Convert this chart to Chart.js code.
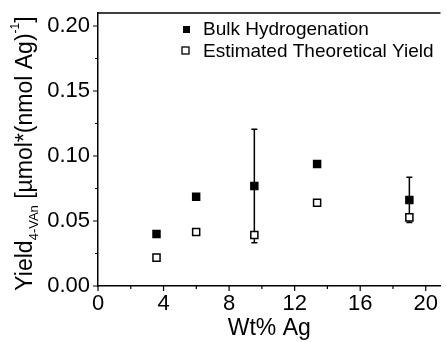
<!DOCTYPE html>
<html>
<head>
<meta charset="utf-8">
<script src="https://cdn.jsdelivr.net/npm/chart.js@4/dist/chart.umd.min.js"></script>
<style>
  html, body { margin: 0; padding: 0; background: #fff; overflow: hidden; }
  canvas { display: block; }
</style>
</head>
<body>
<canvas id="chart" width="447" height="342"></canvas>
<script>
const wtAg = [3.57, 5.99, 9.54, 13.37, 19.0];
const bulkYield = [0.040, 0.0687, 0.0769, 0.0938, 0.0662];
const bulkErr = [0, 0, 0.0436, 0, 0.0174];
const theoYield = [0.0218, 0.0415, 0.0392, 0.0641, 0.0528];
const seriesNames = ['Bulk Hydrogenation', 'Estimated Theoretical Yield'];
const xTitle = 'Wt% Ag';

const FONT = '"Liberation Sans", Arial, sans-serif';

// error bars, ticks, top frame line, legend and the y title with sub/superscripts
const extras = {
    id: 'extras',
    beforeDatasetsDraw(chart) {
        const ctx = chart.ctx;
        const xs = chart.scales.x, ys = chart.scales.y;
        ctx.save();
        ctx.strokeStyle = '#000';
        ctx.lineWidth = 1.5;
        wtAg.forEach((x, i) => {
            if (!bulkErr[i]) return;
            const px = xs.getPixelForValue(x);
            const top = ys.getPixelForValue(bulkYield[i] + bulkErr[i]);
            const bot = ys.getPixelForValue(bulkYield[i] - bulkErr[i]);
            ctx.beginPath();
            ctx.moveTo(px, top); ctx.lineTo(px, bot);
            ctx.moveTo(px - 3, top); ctx.lineTo(px + 3, top);
            ctx.moveTo(px - 3, bot); ctx.lineTo(px + 3, bot);
            ctx.stroke();
        });
        ctx.restore();
    },
    afterDraw(chart) {
        const ctx = chart.ctx;
        const area = chart.chartArea;
        const xs = chart.scales.x, ys = chart.scales.y;
        ctx.save();
        ctx.strokeStyle = '#000';
        ctx.lineWidth = 1.5;
        // top frame
        ctx.beginPath();
        ctx.moveTo(area.left, area.top);
        ctx.lineTo(area.right, area.top);
        ctx.stroke();
        // outward ticks, major longer than minor
        ctx.lineWidth = 1.2;
        ctx.beginPath();
        xs.ticks.forEach(t => {
            const px = xs.getPixelForValue(t.value);
            const len = Math.round(t.value) % 4 === 0 ? 5 : 3;
            ctx.moveTo(px, area.bottom); ctx.lineTo(px, area.bottom + len);
        });
        ys.ticks.forEach(t => {
            const py = ys.getPixelForValue(t.value);
            const len = Math.round(t.value / 0.025) % 2 === 0 ? 5 : 3;
            ctx.moveTo(area.left, py); ctx.lineTo(area.left - len, py);
        });
        ctx.stroke();

        // legend
        ctx.fillStyle = '#000';
        ctx.font = '19px ' + FONT;
        ctx.textBaseline = 'alphabetic';
        ctx.textAlign = 'left';
        ctx.fillRect(183, 26, 7, 7);
        ctx.fillText(seriesNames[0], 203, 35);
        ctx.fillStyle = '#fff';
        ctx.fillRect(182, 47, 7, 7);
        ctx.lineWidth = 1.3;
        ctx.strokeRect(182, 47, 7, 7);
        ctx.fillStyle = '#000';
        ctx.fillText(seriesNames[1], 203, 57);

        // y axis title
        const parts = [
            { t: 'Yield', size: 23, dy: 0 },
            { t: '4-VAn', size: 13, dy: 6 },
            { t: ' [\u00b5mol*(nmol Ag)', size: 23, dy: 0 },
            { t: '-1', size: 12, dy: -13 },
            { t: ']', size: 23, dy: 0 }
        ];
        let total = 0;
        parts.forEach(p => {
            ctx.font = p.size + 'px ' + FONT;
            p.w = ctx.measureText(p.t).width;
            total += p.w;
        });
        ctx.translate(32, (area.top + area.bottom) / 2 + 4);
        ctx.rotate(-Math.PI / 2);
        let x = -total / 2;
        parts.forEach(p => {
            ctx.font = p.size + 'px ' + FONT;
            ctx.fillText(p.t, x, p.dy);
            x += p.w;
        });
        ctx.restore();
    }
};

const ctx = document.getElementById('chart').getContext('2d');
new Chart(ctx, {
    type: 'scatter',
    data: {
        datasets: [
            {
                label: seriesNames[0],
                data: wtAg.map((x, i) => ({ x: x, y: bulkYield[i] })),
                pointStyle: 'rect',
                pointRadius: 6,
                backgroundColor: '#000',
                borderColor: '#000',
                borderWidth: 0
            },
            {
                label: seriesNames[1],
                data: wtAg.map((x, i) => ({ x: x, y: theoYield[i] })),
                pointStyle: 'rect',
                pointRadius: 5,
                backgroundColor: '#fff',
                borderColor: '#000',
                borderWidth: 1.5
            }
        ]
    },
    options: {
        responsive: false,
        animation: false,
        layout: { padding: { top: 13, right: 0, left: 0, bottom: 0 } },
        plugins: {
            legend: { display: false },
            tooltip: { enabled: false }
        },
        scales: {
            x: {
                type: 'linear',
                min: 0,
                max: 20.9,
                grid: { display: false, drawTicks: false },
                border: { display: true, color: '#000', width: 1.5 },
                ticks: {
                    stepSize: 2,
                    includeBounds: false,
                    autoSkip: false,
                    maxRotation: 0,
                    padding: 5,
                    color: '#000',
                    font: { family: FONT, size: 22 },
                    callback: v => (Math.round(v) % 4 === 0 ? String(Math.round(v)) : '')
                },
                title: {
                    display: true,
                    text: xTitle,
                    color: '#000',
                    font: { family: FONT, size: 23 },
                    padding: { top: 0, bottom: 0 }
                },
                afterFit: s => {
                    s.height = 56;
                    s.paddingLeft = 0;
                    s.paddingRight = 0;
                }
            },
            y: {
                min: 0,
                max: 0.21,
                grid: { display: false, drawTicks: false },
                border: { display: true, color: '#000', width: 1.5 },
                ticks: {
                    stepSize: 0.025,
                    includeBounds: false,
                    autoSkip: false,
                    padding: 8,
                    color: '#000',
                    font: { family: FONT, size: 22 },
                    callback: v => (Math.round(v / 0.025) % 2 === 0 ? v.toFixed(2) : '')
                },
                afterFit: s => {
                    s.width = 98;
                    s.paddingTop = 0;
                    s.paddingBottom = 0;
                }
            }
        }
    },
    plugins: [extras]
});
</script>
</body>
</html>
